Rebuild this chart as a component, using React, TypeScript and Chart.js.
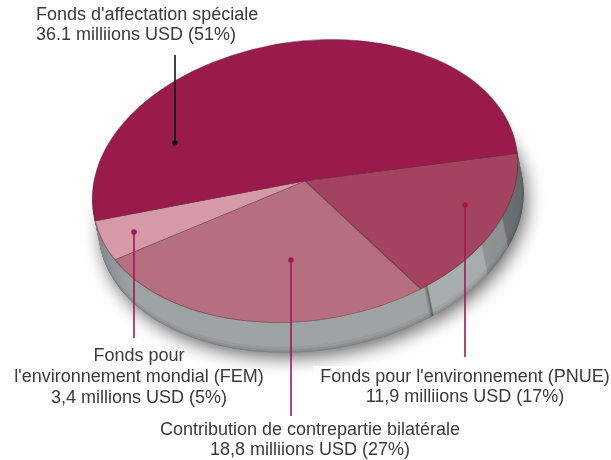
import React, { useEffect, useRef } from "react";
import { Chart, registerables } from "chart.js";

Chart.register(...registerables);

const categories = [
  "Fonds pour l'environnement (PNUE)",
  "Contribution de contrepartie bilatérale",
  "Fonds pour l'environnement mondial (FEM)",
  "Fonds d'affectation spéciale",
];
const amounts = [11.9, 18.8, 3.4, 36.1];
const sliceColors = ["#a3435f", "#b66f80", "#d59aa8", "#9a1a4b"];

const labelBlocks = [
  { lines: ["Fonds d'affectation spéciale", "36.1 milliions USD (51%)"], x: 36, y: 15, gap: 20, align: "left" },
  { lines: ["Fonds pour", "l'environnement mondial (FEM)", "3,4 millions USD (5%)"], x: 139, y: 356, gap: 21, align: "center" },
  { lines: ["Fonds pour l'environnement (PNUE)", "11,9 milliions USD (17%)"], x: 465, y: 377, gap: 20, align: "center" },
  { lines: ["Contribution de contrepartie bilatérale", "18,8 milliions USD (27%)"], x: 310, y: 430, gap: 20, align: "center" },
];
const leaders = [
  { x: 175, y1: 55, y2: 143, color: "#111111" },
  { x: 134, y1: 232, y2: 338, color: "#a01a4f" },
  { x: 291, y1: 260, y2: 416, color: "#a01a4f" },
  { x: 465, y1: 205, y2: 357, color: "#a01a4f" },
];

// Placement of the tilted disc on the page
const DISC = { cx: 305, cy: 181, a: 214, b: 139.5, tilt: -8.4, depth: 30, drift: 6 };

const rimStops: [number, string][] = [
  [0, "#606465"], [27, "#6c7071"], [27.5, "#8a8f90"], [39, "#8e9394"], [39.5, "#a6abac"],
  [60, "#a8adae"], [60.5, "#666a6b"], [61.5, "#9ea3a4"], [150, "#9ea3a4"], [172, "#858a8b"], [360, "#858a8b"],
];

const shade = (hex: string, f: number) => {
  const n = parseInt(hex.slice(1), 16);
  const c = (s: number) => Math.round(((n >> s) & 255) * f);
  return `rgb(${c(16)},${c(8)},${c(0)})`;
};

const discPlugin = {
  id: "disc",
  beforeDatasetsDraw(chart: any) {
    const { ctx } = chart;
    const arcs = chart.getDatasetMeta(0).data;
    const c = arcs[0];
    const r = c.outerRadius;
    const apply = (dx: number, dy: number) => {
      ctx.translate(DISC.cx + dx, DISC.cy + dy);
      ctx.rotate((DISC.tilt * Math.PI) / 180);
      ctx.scale(DISC.a / r, DISC.b / r);
      ctx.translate(-c.x, -c.y);
    };
    const paint = (fill: any) => {
      arcs.forEach((el: any) => {
        const saved = el.options;
        el.options = { ...saved, backgroundColor: fill, borderWidth: 0 };
        el.draw(ctx);
        el.options = saved;
      });
    };
    const conic = (f: number) => {
      const g = ctx.createConicGradient(0, c.x, c.y);
      rimStops.forEach(([deg, col]) => g.addColorStop(deg / 360, shade(col, f)));
      return g;
    };
    // soft cast shadow
    ctx.save();
    ctx.shadowColor = "rgba(0,0,0,0.6)";
    ctx.shadowBlur = 18;
    ctx.shadowOffsetX = 3;
    ctx.shadowOffsetY = 5;
    apply(DISC.drift, DISC.depth);
    paint("#777b7c");
    ctx.restore();
    // extruded side, bottom layer first
    for (let i = DISC.depth; i >= 1; i--) {
      ctx.save();
      apply((DISC.drift * i) / DISC.depth, i);
      const f = i > DISC.depth - 1 ? 0.8 : i > DISC.depth - 3 ? 0.88 : i > DISC.depth - 6 ? 0.95 : 1;
      paint(conic(f));
      ctx.restore();
    }
    ctx.save();
    apply(0, 0);
  },
  afterDatasetsDraw(chart: any) {
    chart.ctx.restore();
  },
  afterDraw(chart: any) {
    const { ctx } = chart;
    ctx.save();
    // white backing behind the lower-right caption, as in the reference
    ctx.fillStyle = "#ffffff";
    ctx.fillRect(313, 366, 298, 94);
    leaders.forEach((l) => {
      ctx.strokeStyle = l.color;
      ctx.fillStyle = l.color;
      ctx.lineWidth = 1.6;
      ctx.beginPath();
      ctx.moveTo(l.x, l.y1);
      ctx.lineTo(l.x, l.y2);
      ctx.stroke();
      ctx.beginPath();
      ctx.arc(l.x, l.y1 === 55 ? l.y2 : l.y1, 2.8, 0, Math.PI * 2);
      ctx.fill();
    });
    ctx.fillStyle = "#3a3a3a";
    ctx.font = '18px "Liberation Sans", Arial, sans-serif';
    ctx.textBaseline = "middle";
    labelBlocks.forEach((b) => {
      ctx.textAlign = b.align;
      b.lines.forEach((t, i) => ctx.fillText(t, b.x, b.y + i * b.gap));
    });
    ctx.restore();
  },
};

export default function App() {
  const ref = useRef<HTMLCanvasElement>(null);
  useEffect(() => {
    const chart = new Chart(ref.current!, {
      type: "pie",
      data: {
        labels: categories,
        datasets: [
          {
            data: amounts,
            backgroundColor: sliceColors,
            borderColor: "rgba(90,45,60,0.55)",
            borderWidth: 1.2,
          },
        ],
      },
      options: {
        responsive: false,
        animation: false,
        rotation: 91.5,
        layout: { padding: 0 },
        plugins: { legend: { display: false }, tooltip: { enabled: false } },
      },
      plugins: [discPlugin],
    });
    return () => chart.destroy();
  }, []);
  return (
    <canvas
      ref={ref}
      width={611}
      height={460}
      style={{ position: "fixed", left: 0, top: 0, width: 611, height: 460, background: "#fff" }}
    />
  );
}
